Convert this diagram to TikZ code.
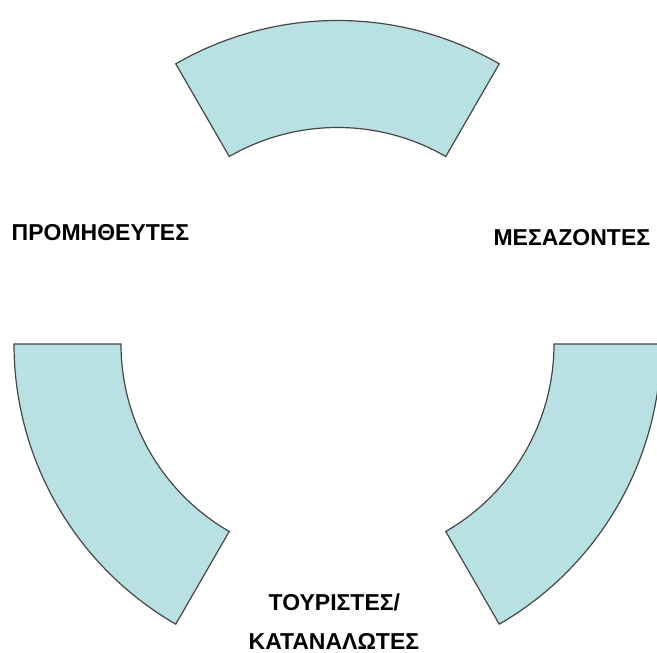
\documentclass[tikz,border=0pt]{standalone}
\usepackage{fontspec}
\setmainfont{Liberation Sans}
\usetikzlibrary{calc}
\definecolor{segfill}{RGB}{185,224,227}
\definecolor{segline}{RGB}{70,70,70}
\tikzset{
  seg/.style={fill=segfill, draw=segline, line width=1.2pt, line join=miter},
  lbl/.style={font=\fontsize{23}{26}\selectfont\bfseries, text=black, inner sep=0pt, anchor=base west}
}
\begin{document}
\begin{tikzpicture}[x=1pt,y=1pt]
\useasboundingbox (0,0) rectangle (657,653);
\clip (0,0) rectangle (657,653);
\coordinate (c) at (337.5,309);
\def\rin{216.5pt}
\def\rout{323.5pt}
% top segment
\draw[seg] ($(c)+(60:\rout)$) arc[start angle=60, end angle=120, radius=\rout]
  -- ($(c)+(120:\rin)$) arc[start angle=120, end angle=60, radius=\rin] -- cycle;
% left segment
\draw[seg] ($(c)+(180:\rout)$) arc[start angle=180, end angle=240, radius=\rout]
  -- ($(c)+(240:\rin)$) arc[start angle=240, end angle=180, radius=\rin] -- cycle;
% right segment
\draw[seg] ($(c)+(300:\rout)$) arc[start angle=300, end angle=360, radius=\rout]
  -- ($(c)+(0:\rin)$) arc[start angle=360, end angle=300, radius=\rin] -- cycle;
\node[lbl] (prom) at (11.5,412.5) {ΠΡΟΜΗΘΕΥΤΕΣ};
\node[lbl] (mesa) at (493.3,407) {ΜΕΣΑΖΟΝΤΕΣ};
\node[lbl] (tour) at (268.5,42.5) {ΤΟΥΡΙΣΤΕΣ/};
\node[lbl] (kata) at (248.5,3.5) {ΚΑΤΑΝΑΛΩΤΕΣ};
\end{tikzpicture}
\end{document}
